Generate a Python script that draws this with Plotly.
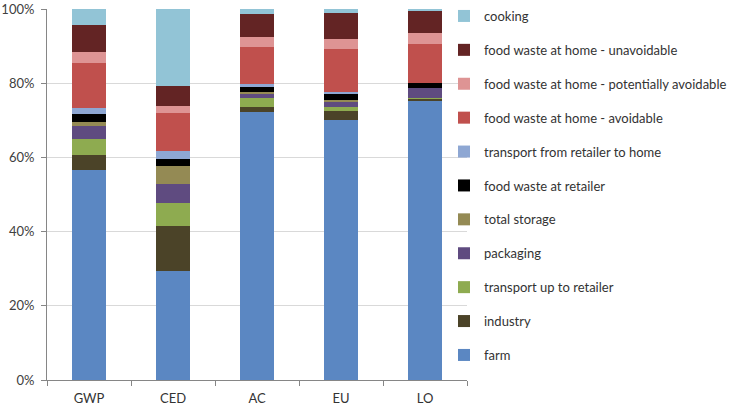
import plotly.graph_objects as go

categories = ["GWP", "CED", "AC", "EU", "LO"]

farm = [56.6, 29.5, 72.2, 70.1, 75.4]
industry = [4.1, 12.0, 1.4, 2.35, 0.4]
transport_up = [4.15, 6.1, 2.4, 1.25, 0.15]
packaging = [3.6, 5.2, 1.2, 1.45, 2.7]
total_storage = [1.1, 4.85, 0.3, 0.35, 0.0]
waste_retailer = [2.2, 1.8, 1.6, 1.6, 1.5]
transport_home = [1.6, 2.2, 0.6, 0.55, 0.0]
waste_avoidable = [12.2, 10.2, 10.1, 11.5, 10.35]
waste_potential = [2.8, 2.0, 2.6, 2.7, 3.1]
waste_unavoidable = [7.4, 5.4, 6.2, 7.0, 6.1]
cooking = [4.3, 20.8, 1.35, 1.15, 0.3]

series = [
    ("farm", farm, "#5B87C2"),
    ("industry", industry, "#4B4328"),
    ("transport up to retailer", transport_up, "#8EAB50"),
    ("packaging", packaging, "#5F4B80"),
    ("total storage", total_storage, "#948A54"),
    ("food waste at retailer", waste_retailer, "#000000"),
    ("transport from retailer to home", transport_home, "#8EA7D3"),
    ("food waste at home - avoidable", waste_avoidable, "#C0504D"),
    ("food waste at home - potentially avoidable", waste_potential, "#DE9494"),
    ("food waste at home - unavoidable", waste_unavoidable, "#632424"),
    ("cooking", cooking, "#92C4D6"),
]

fig = go.Figure()
n = len(series)
for i, (name, vals, color) in enumerate(series):
    fig.add_trace(go.Bar(
        x=categories, y=vals, name=name, legendgroup=str(i),
        legendrank=(n - i) * 10,
        marker=dict(color=color, line=dict(width=0)),
    ))

W, H = 730, 406
font = "Lato, 'Open Sans', sans-serif"
fig.update_layout(
    barmode="stack",
    bargap=0.6,
    width=W, height=H,
    margin=dict(l=47, r=263, t=9, b=26, autoexpand=False),
    plot_bgcolor="white", paper_bgcolor="white",
    font=dict(family=font, size=13, color="#404040"),
    legend=dict(
        traceorder="grouped",
        tracegroupgap=14,
        xref="container", yref="container",
        x=444 / W, xanchor="left", y=1 - 1 / H, yanchor="top",
        font=dict(size=13, color="#333333"),
        itemwidth=30,
        maxheight=H,
        bgcolor="rgba(0,0,0,0)",
    ),
    xaxis=dict(
        showline=True, linecolor="#868686", linewidth=1,
        ticks="outside", tickson="boundaries", ticklen=5, tickcolor="#868686",
        tickfont=dict(size=13, color="#333333"),
        ticklabelstandoff=6,
    ),
    yaxis=dict(
        range=[0, 100], dtick=20, ticksuffix="%",
        showgrid=True, gridcolor="#D9D9D9", gridwidth=1,
        showline=True, linecolor="#868686", linewidth=1,
        ticks="outside", ticklen=5, tickcolor="#868686",
        tickfont=dict(size=13, color="#404040"),
        ticklabelstandoff=4,
        zeroline=False,
    ),
)

# remove the default 8px body margin so the figure sits at the page origin
fig.write_html("out.html", config={"displayModeBar": False},
               post_script="document.body.style.margin='0';")
